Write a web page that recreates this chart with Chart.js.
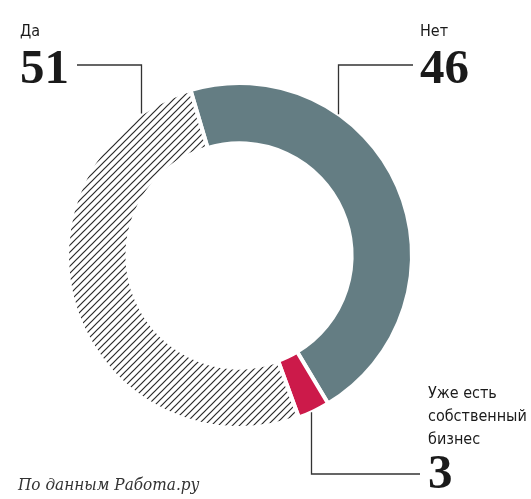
<!DOCTYPE html>
<html>
<head>
<meta charset="utf-8">
<script src="https://cdn.jsdelivr.net/npm/chart.js@4.4.0/dist/chart.umd.min.js"></script>
<style>
  html, body { margin: 0; padding: 0; background: #fff; }
  #wrap { width: 531px; height: 499px; position: relative; }
</style>
</head>
<body>
<div id="wrap"><canvas id="chartDonut"></canvas></div>
<script>
// data, clockwise from the top
var labels = ['Нет', 'Уже есть собственный бизнес', 'Да'];
var values = [46, 3, 51];
var valueText = ['46', '3', '51'];

var grayColor = '#647d83';
var redColor = '#cc1a4a';

// diagonal hatch for the "Да" slice
function makeHatch() {
    var size = 7;
    var c = document.createElement('canvas');
    c.width = size; c.height = size;
    var g = c.getContext('2d');
    g.strokeStyle = '#2a2a2a';
    g.lineWidth = 1.2;
    g.beginPath();
    g.moveTo(-1, size + 1); g.lineTo(size + 1, -1);
    g.moveTo(-1, 1); g.lineTo(1, -1);
    g.moveTo(size - 1, size + 1); g.lineTo(size + 1, size - 1);
    g.stroke();
    return g.createPattern(c, 'repeat');
}

// label layout: leader x offset from centre, elbow y, text position
var leaders = [
    { dx: 99,  elbowY: 65,  endX: 413, textX: 420, side: 'top' },
    { dx: 72,  elbowY: 474, endX: 420, textX: 428, side: 'bottom' },
    { dx: -98, elbowY: 65,  endX: 77,  textX: 20,  side: 'top' }
];

var labelPlugin = {
    id: 'donutLabels',
    afterDraw: function(chart) {
        var ctx = chart.ctx;
        var arcs = chart.getDatasetMeta(0).data;
        ctx.save();
        arcs.forEach(function(arc, i) {
            var L = leaders[i];
            var r = arc.outerRadius;
            var x = arc.x + L.dx;
            var dy = Math.sqrt(r * r - L.dx * L.dx);
            var y = L.side === 'top' ? arc.y - dy : arc.y + dy;
            ctx.strokeStyle = '#333';
            ctx.lineWidth = 1.3;
            ctx.beginPath();
            ctx.moveTo(x, y);
            ctx.lineTo(x, L.elbowY);
            ctx.lineTo(L.endX, L.elbowY);
            ctx.stroke();

            ctx.fillStyle = '#1a1a1a';
            ctx.textAlign = 'left';
            ctx.textBaseline = 'alphabetic';
            ctx.font = '16px "Liberation Sans Narrow", "DejaVu Sans Condensed", sans-serif';
            if (i === 1) {
                ctx.fillText('Уже есть', L.textX, 398);
                ctx.fillText('собственный', L.textX, 421);
                ctx.fillText('бизнес', L.textX, 444);
                ctx.font = 'bold 49px "Liberation Serif", serif';
                ctx.fillText(valueText[i], L.textX, 488);
            } else {
                ctx.fillText(labels[i], L.textX, 36);
                ctx.font = 'bold 49px "Liberation Serif", serif';
                ctx.fillText(valueText[i], L.textX, 83);
            }
        });
        ctx.font = 'italic 17px "DejaVu Serif Condensed", "DejaVu Serif", serif';
        ctx.fillStyle = '#333';
        ctx.fillText('По данным Работа.ру', 18, 490);
        ctx.restore();
    }
};

var ctx = document.getElementById('chartDonut');
var donut = new Chart(ctx, {
    type: 'doughnut',
    data: {
        labels: labels,
        datasets: [{
            data: values,
            backgroundColor: [grayColor, redColor, makeHatch()],
            borderColor: '#ffffff',
            borderWidth: 4,
            hoverOffset: 0
        }]
    },
    options: {
        responsive: true,
        maintainAspectRatio: false,
        animation: false,
        rotation: -16.5,
        cutout: '65%',
        layout: {
            padding: { top: 81, bottom: 69, left: 65, right: 117 }
        },
        plugins: {
            legend: { display: false },
            tooltip: { enabled: false }
        }
    },
    plugins: [labelPlugin]
});
</script>
</body>
</html>
